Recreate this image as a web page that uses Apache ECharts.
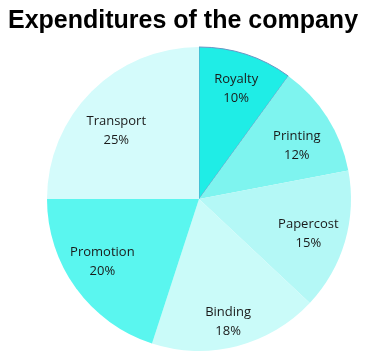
<!DOCTYPE html>
<html><head><meta charset="utf-8">
<script src="https://cdn.jsdelivr.net/npm/echarts@6/dist/echarts.min.js"></script>
<style>html,body{margin:0;padding:0;background:#fff}#c{width:366px;height:358px}</style>
</head><body><div id="c"></div>
<script>
const categories = ['Royalty', 'Printing', 'Papercost', 'Binding', 'Promotion', 'Transport'];
const values = [10, 12, 15, 18, 20, 25];
const colors = ['#1fede6', '#7ef4ef', '#b4f8f6', '#cafbf9', '#5af6ef', '#d4fbfb'];
const titleText = 'Expenditures of the company';

// label nudges (styling only)
const labelNudge = [[1, 1], [-1, 9], [-3, 2], [0, 9], [-2, -6], [0, 15]];

const chart = echarts.init(document.getElementById('c'));
const fillData = categories.map((n, i) => ({
  name: n, value: values[i],
  itemStyle: i === 0 ? {color: colors[i], borderColor: '#6a95c4', borderWidth: 1} : {color: colors[i], borderWidth: 0}
}));
const labelData = categories.map((n, i) => ({name: n, value: values[i], label: {offset: labelNudge[i]}}));
chart.setOption({
  animation: false,
  title: {
    text: titleText, left: 'center', top: 4,
    textStyle: {fontFamily: 'Liberation Sans', fontWeight: 'bold', fontSize: 25, color: '#000'}
  },
  series: [
    {
      type: 'pie', center: [199, 199], radius: [0, 152], startAngle: 90, clockwise: true,
      data: fillData, label: {show: false}, labelLine: {show: false}, silent: true
    },
    {
      type: 'pie', center: [199, 199], radius: [76, 152], startAngle: 90, clockwise: true,
      data: labelData, silent: true,
      itemStyle: {color: 'rgba(0,0,0,0)', borderWidth: 0},
      label: {
        show: true, position: 'inside', formatter: '{b}\n{d}%',
        fontFamily: 'Open Sans', fontSize: 13, lineHeight: 19, color: '#1a1a1a'
      },
      labelLine: {show: false}
    }
  ]
});
</script></body></html>
